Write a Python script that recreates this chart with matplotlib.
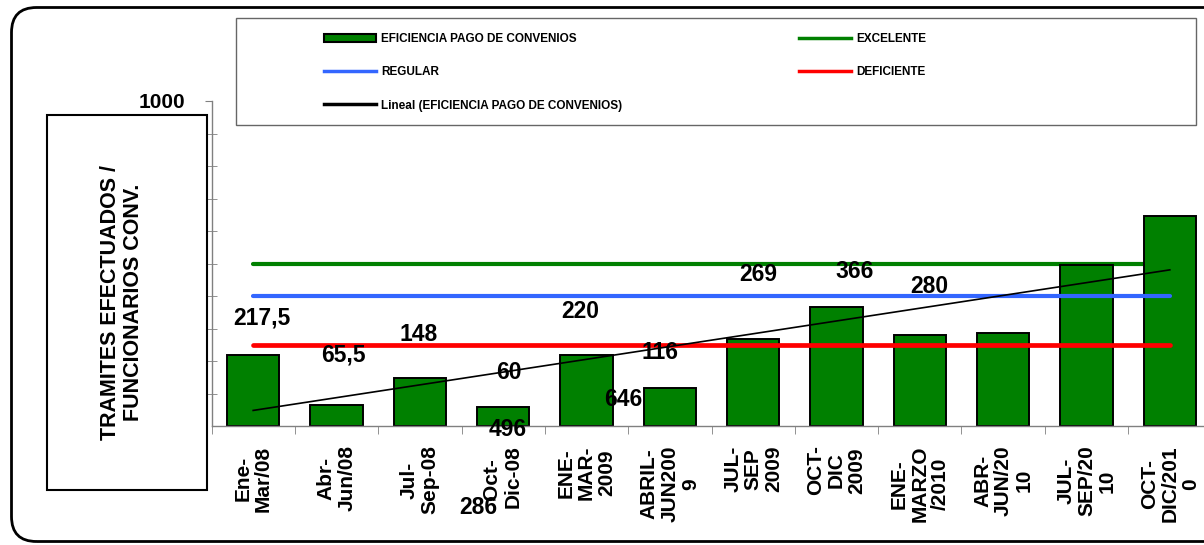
import matplotlib
matplotlib.use('Agg')
import matplotlib.pyplot as plt
import numpy as np
from matplotlib.patches import Rectangle, FancyBboxPatch, Patch
from matplotlib.lines import Line2D
from matplotlib.transforms import IdentityTransform
from matplotlib import font_manager

periodos = ['Ene-\nMar/08', 'Abr-\nJun/08', 'Jul-\nSep-08', 'Oct- \nDic-08',
            'ENE-\nMAR-\n2009', 'ABRIL-\nJUN200\n9', 'JUL-\nSEP\n2009', 'OCT-\nDIC\n2009',
            'ENE-\nMARZO\n/2010', 'ABR-\nJUN/20\n10', 'JUL-\nSEP/20\n10', 'OCT-\nDIC/201\n0']
eficiencia = [217.5, 65.5, 148, 60, 220, 116, 269, 366, 280, 286, 496, 646]
excelente = [500] * 12
regular = [400] * 12
deficiente = [250] * 12

# data labels, left where the spreadsheet put them (category units, value units)
etiquetas = ['217,5', '65,5', '148', '60', '220', '116', '269', '366', '280', '286', '496', '646']
etiqueta_x = [0.10, 1.08, 1.98, 3.07, 3.92, 4.88, 6.06, 7.22, 8.11, 2.70, 3.05, 4.44]
etiqueta_y = [333, 219, 283, 166, 352, 225, 465, 474, 429, -252, -12, 80]

plt.rcParams['font.family'] = ['Liberation Sans', 'DejaVu Sans']
nombres = {f.name for f in font_manager.fontManager.ttflist}
if 'Liberation Sans Narrow' in nombres:
    fuente_ley = ['Liberation Sans Narrow', 'Liberation Sans']
    tam_ley = 10
else:
    fuente_ley = ['Liberation Sans']
    tam_ley = 8.5

W, H = 1204.0, 545.0
fig = plt.figure(figsize=(W / 100, H / 100), dpi=100)
ax = fig.add_axes([211.5 / W, (H - 426) / H, 1000 / W, 325 / H])

x = np.arange(len(periodos))
ax.bar(x, eficiencia, width=0.625, color='#008000', edgecolor='black', linewidth=1.4, zorder=2)
ax.plot(x, excelente, color='#008000', lw=3, zorder=1, solid_capstyle='round')
ax.plot(x, regular, color='#3366ff', lw=3, zorder=3, solid_capstyle='round')
ax.plot(x, deficiente, color='#ff0000', lw=3.4, zorder=3, solid_capstyle='round')
coef = np.polyfit(x, eficiencia, 1)
ax.plot(x, np.polyval(coef, x), color='black', lw=1.2, zorder=4)

for i in range(len(etiquetas)):
    ax.text(etiqueta_x[i], etiqueta_y[i], etiquetas[i], ha='center', va='center',
            fontsize=16.5, fontweight='bold', clip_on=False, zorder=5)

ax.set_xlim(-0.5, 11.5)
ax.set_ylim(0, 1000)
for s in ['top', 'right']:
    ax.spines[s].set_visible(False)
for s in ['left', 'bottom']:
    ax.spines[s].set_color('#808080')
    ax.spines[s].set_linewidth(1)

ax.set_yticks([1000])
ax.set_yticklabels(['1000'], fontsize=15, fontweight='bold')
ax.set_yticks(np.arange(100, 1000, 100), minor=True)
ax.tick_params(axis='y', which='major', direction='out', length=5, color='#808080', pad=14)
ax.tick_params(axis='y', which='minor', direction='inout', length=7, color='#808080')

ax.set_xticks(x)
ax.set_xticklabels(periodos, rotation=90, fontsize=15, fontweight='bold',
                   va='top', ha='center', multialignment='center', linespacing=1.1)
ax.set_xticks(np.arange(-0.5, 12, 1), minor=True)
ax.tick_params(axis='x', which='major', length=0, pad=14)
ax.tick_params(axis='x', which='minor', direction='out', length=6, color='#808080')

# y title in its own box
fig.add_artist(Rectangle((46.7 / W, (H - 490) / H), (207 - 46.7) / W, (490 - 115) / H,
                         transform=fig.transFigure, fill=False, edgecolor='black', lw=1.5))
fig.text(122 / W, 1 - 302 / H, 'TRAMITES EFECTUADOS /\nFUNCIONARIOS CONV.', rotation=90,
         ha='center', va='center', fontsize=15.5, fontweight='bold', linespacing=1.1)

# legend frame and two columns
fig.add_artist(Rectangle((236 / W, (H - 125) / H), (1196 - 236) / W, (125 - 18) / H,
                         transform=fig.transFigure, fill=False, edgecolor='#666666', lw=1))
h_bar = Patch(facecolor='#008000', edgecolor='black', lw=1.5)
h_exc = Line2D([], [], color='#008000', lw=2.5)
h_reg = Line2D([], [], color='#3366ff', lw=2.5)
h_def = Line2D([], [], color='#ff0000', lw=2.5)
h_lin = Line2D([], [], color='black', lw=2.5)
props = dict(family=fuente_ley, size=tam_ley, weight='bold')
fs_px = tam_ley * 100 / 72.0
opts = dict(loc='upper left', frameon=False, borderpad=0, borderaxespad=0,
            handlelength=52 / fs_px, handletextpad=5 / fs_px, labelspacing=1.8, prop=props)
fig.legend([h_bar, h_reg, h_lin],
           ['EFICIENCIA PAGO DE CONVENIOS', 'REGULAR', 'Lineal (EFICIENCIA PAGO DE CONVENIOS)'],
           bbox_to_anchor=(324 / W, 1 - 33 / H), **opts)
fig.legend([h_exc, h_def], ['EXCELENTE', 'DEFICIENTE'],
           bbox_to_anchor=(799 / W, 1 - 33 / H), **opts)

# outer rounded frame, its right side runs past the picture
fig.add_artist(FancyBboxPatch((11.5, 3.5), 1240, 534, boxstyle='round,pad=0,rounding_size=25',
                              transform=IdentityTransform(), fill=False, edgecolor='black', lw=2))

fig.savefig('out.png', dpi=100)
